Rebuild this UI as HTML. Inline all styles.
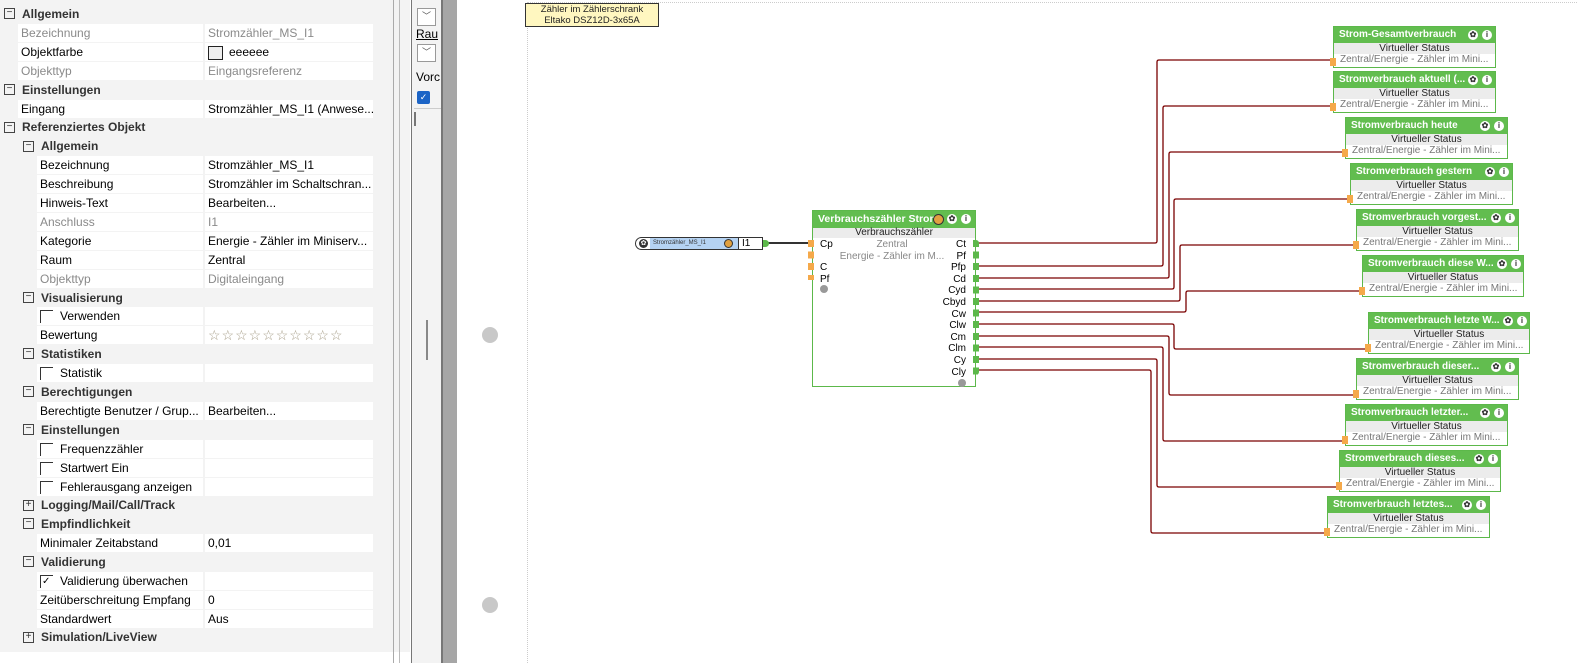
<!DOCTYPE html>
<html><head><meta charset="utf-8"><style>
*{margin:0;padding:0;box-sizing:border-box}
body{width:1577px;height:663px;position:relative;overflow:hidden;background:#fff;font-family:"Liberation Sans",sans-serif}
.panel{position:absolute;left:0;top:0;width:410px;height:652px;background:#f3f3f3}
.r{position:absolute;height:18px;line-height:18px;font-size:12px;color:#1a1a1a;white-space:nowrap}
.h{font-weight:bold;color:#333}
.c{background:#fff;position:absolute;height:18px;line-height:18px;font-size:12px;white-space:nowrap;overflow:hidden;padding-left:3px}
.g{color:#8a8a8a}
.sg{position:absolute;width:11px;height:11px;border:1px solid #444;font-size:10px;line-height:8px;text-align:center;color:#333;background:#f3f3f3}
.cb{position:absolute;width:13px;height:13px;border-left:1px solid #333;border-top:1px solid #333}
.node{position:absolute;border:1px solid #5cb84a;background:#fff;font-size:10px}
.nh{background:#62bd4f;color:#fff;font-weight:bold;height:16px;line-height:16px;padding-left:5px;font-size:10px;white-space:nowrap;overflow:hidden}
.ns{background:#ececec;color:#222;text-align:center;height:11px;line-height:11px}
.nz{color:#777;height:12px;line-height:12px;padding-left:6px;white-space:nowrap;overflow:hidden}
.ic{position:absolute;top:3px;width:10px;height:10px;border-radius:50%;background:#fff;color:#333;font-size:8px;line-height:10px;text-align:center;font-weight:bold}
.inp{position:absolute;left:-4px;bottom:1px;width:6px;height:8px;background:#f5a94a}
</style></head><body>
<div class="panel">
<div class="sg" style="left:4px;top:8px">−</div><div class="r h" style="left:22px;top:5px">Allgemein</div>
<div class="c g" style="left:18px;top:24px;width:185px">Bezeichnung</div><div class="c g" style="left:205px;top:24px;width:168px">Stromzähler_MS_I1</div>
<div class="c" style="left:18px;top:43px;width:185px">Objektfarbe</div><div class="c" style="left:205px;top:43px;width:168px"><span style="display:inline-block;width:15px;height:14px;border:1px solid #222;background:#eee;vertical-align:middle;margin-right:6px"></span>eeeeee</div>
<div class="c g" style="left:18px;top:62px;width:185px">Objekttyp</div><div class="c g" style="left:205px;top:62px;width:168px">Eingangsreferenz</div>
<div class="sg" style="left:4px;top:84px">−</div><div class="r h" style="left:22px;top:81px">Einstellungen</div>
<div class="c" style="left:18px;top:100px;width:185px">Eingang</div><div class="c" style="left:205px;top:100px;width:168px">Stromzähler_MS_I1 (Anwese...</div>
<div class="sg" style="left:4px;top:122px">−</div><div class="r h" style="left:22px;top:118px">Referenziertes Objekt</div>
<div class="sg" style="left:23px;top:141px">−</div><div class="r h" style="left:41px;top:137px">Allgemein</div>
<div class="c" style="left:37px;top:156px;width:166px">Bezeichnung</div><div class="c" style="left:205px;top:156px;width:168px">Stromzähler_MS_I1</div>
<div class="c" style="left:37px;top:175px;width:166px">Beschreibung</div><div class="c" style="left:205px;top:175px;width:168px">Stromzähler im Schaltschran...</div>
<div class="c" style="left:37px;top:194px;width:166px">Hinweis-Text</div><div class="c" style="left:205px;top:194px;width:168px">Bearbeiten...</div>
<div class="c g" style="left:37px;top:213px;width:166px">Anschluss</div><div class="c g" style="left:205px;top:213px;width:168px">I1</div>
<div class="c" style="left:37px;top:232px;width:166px">Kategorie</div><div class="c" style="left:205px;top:232px;width:168px">Energie - Zähler im Miniserv...</div>
<div class="c" style="left:37px;top:251px;width:166px">Raum</div><div class="c" style="left:205px;top:251px;width:168px">Zentral</div>
<div class="c g" style="left:37px;top:270px;width:166px">Objekttyp</div><div class="c g" style="left:205px;top:270px;width:168px">Digitaleingang</div>
<div class="sg" style="left:23px;top:292px">−</div><div class="r h" style="left:41px;top:289px">Visualisierung</div>
<div class="c" style="left:37px;top:307px;width:166px;padding-left:23px">Verwenden</div><div class="c" style="left:205px;top:307px;width:168px"></div><div class="cb" style="left:40px;top:310px"></div>
<div class="c" style="left:37px;top:326px;width:166px">Bewertung</div><div class="c" style="left:205px;top:326px;width:168px;color:#a89f8a;font-size:14px;letter-spacing:1px">☆☆☆☆☆☆☆☆☆☆</div>
<div class="sg" style="left:23px;top:348px">−</div><div class="r h" style="left:41px;top:345px">Statistiken</div>
<div class="c" style="left:37px;top:364px;width:166px;padding-left:23px">Statistik</div><div class="c" style="left:205px;top:364px;width:168px"></div><div class="cb" style="left:40px;top:367px"></div>
<div class="sg" style="left:23px;top:386px">−</div><div class="r h" style="left:41px;top:383px">Berechtigungen</div>
<div class="c" style="left:37px;top:402px;width:166px">Berechtigte Benutzer / Grup...</div><div class="c" style="left:205px;top:402px;width:168px">Bearbeiten...</div>
<div class="sg" style="left:23px;top:424px">−</div><div class="r h" style="left:41px;top:421px">Einstellungen</div>
<div class="c" style="left:37px;top:440px;width:166px;padding-left:23px">Frequenzzähler</div><div class="c" style="left:205px;top:440px;width:168px"></div><div class="cb" style="left:40px;top:443px"></div>
<div class="c" style="left:37px;top:459px;width:166px;padding-left:23px">Startwert Ein</div><div class="c" style="left:205px;top:459px;width:168px"></div><div class="cb" style="left:40px;top:462px"></div>
<div class="c" style="left:37px;top:478px;width:166px;padding-left:23px">Fehlerausgang anzeigen</div><div class="c" style="left:205px;top:478px;width:168px"></div><div class="cb" style="left:40px;top:481px"></div>
<div class="sg" style="left:23px;top:500px">+</div><div class="r h" style="left:41px;top:496px">Logging/Mail/Call/Track</div>
<div class="sg" style="left:23px;top:518px">−</div><div class="r h" style="left:41px;top:515px">Empfindlichkeit</div>
<div class="c" style="left:37px;top:534px;width:166px">Minimaler Zeitabstand</div><div class="c" style="left:205px;top:534px;width:168px">0,01</div>
<div class="sg" style="left:23px;top:556px">−</div><div class="r h" style="left:41px;top:553px">Validierung</div>
<div class="c" style="left:37px;top:572px;width:166px;padding-left:23px">Validierung überwachen</div><div class="c" style="left:205px;top:572px;width:168px"></div><div class="cb" style="left:40px;top:575px;font-size:10px;line-height:11px;padding-left:1px">✓</div>
<div class="c" style="left:37px;top:591px;width:166px">Zeitüberschreitung Empfang</div><div class="c" style="left:205px;top:591px;width:168px">0</div>
<div class="c" style="left:37px;top:610px;width:166px">Standardwert</div><div class="c" style="left:205px;top:610px;width:168px">Aus</div>
<div class="sg" style="left:23px;top:632px">+</div><div class="r h" style="left:41px;top:628px">Simulation/LiveView</div>
</div>
<div style="position:absolute;left:0;top:652px;width:400px;height:11px;background:#fff"></div>
<div style="position:absolute;left:393px;top:0;width:1px;height:663px;background:#aaa"></div>
<div style="position:absolute;left:399px;top:0;width:1px;height:663px;background:#bbb"></div>
<div style="position:absolute;left:411px;top:0;width:1px;height:663px;background:#777"></div>
<div style="position:absolute;left:412px;top:0;width:29px;height:663px;background:#f3f3f3"></div>
<div style="position:absolute;left:426px;top:320px;width:2px;height:40px;background:#888"></div>
<div style="position:absolute;left:417px;top:8px;width:19px;height:18px;border:1px solid #999;background:#fff;font-size:9px;text-align:center;color:#555">﹀</div>
<div style="position:absolute;left:416px;top:27px;font-size:12px;text-decoration:underline">Rau</div>
<div style="position:absolute;left:417px;top:44px;width:19px;height:18px;border:1px solid #999;background:#fff;font-size:9px;text-align:center;color:#555">﹀</div>
<div style="position:absolute;left:416px;top:70px;font-size:12px">Vorc</div>
<div style="position:absolute;left:417px;top:91px;width:13px;height:13px;border-radius:2px;background:#1b64c6;color:#fff;font-size:9px;text-align:center;line-height:13px">✓</div>
<div style="position:absolute;left:414px;top:108px;width:27px;height:1px;background:#ccc"></div>
<div style="position:absolute;left:414px;top:112px;width:2px;height:14px;background:#777"></div>
<div style="position:absolute;left:441px;top:0;width:2px;height:663px;background:#777"></div>
<div style="position:absolute;left:443px;top:0;width:14px;height:663px;background:#a6a6a6"></div>
<!-- canvas -->
<div style="position:absolute;left:527px;top:2px;width:1050px;height:661px;border-left:1px dotted #ccc;border-top:1px dotted #ccc"></div>
<div style="position:absolute;left:525px;top:3px;width:134px;height:24px;background:#fff7c0;border:1px solid #333;font-size:9.5px;text-align:center;line-height:11px;color:#222">Zähler im Zählerschrank<br>Eltako DSZ12D-3x65A</div>
<div style="position:absolute;left:482px;top:327px;width:16px;height:16px;border-radius:50%;background:#c8c8c8"></div>
<div style="position:absolute;left:482px;top:597px;width:16px;height:16px;border-radius:50%;background:#c8c8c8"></div>
<svg style="position:absolute;left:0;top:0" width="1577" height="663">
<g fill="none" stroke="#7a0000" stroke-width="1.3">
<path d="M978 243H1155Q1157 243 1157 241V62Q1157 60 1159 60H1333"/>
<path d="M978 266H1161Q1163 266 1163 264V108Q1163 106 1165 106H1333"/>
<path d="M978 278H1167Q1169 278 1169 276V154Q1169 152 1171 152H1345"/>
<path d="M978 289H1172Q1174 289 1174 287V201Q1174 199 1176 199H1350"/>
<path d="M978 301H1178Q1180 301 1180 299V247Q1180 245 1182 245H1356"/>
<path d="M978 312H1184Q1186 312 1186 310V293Q1186 291 1188 291H1362"/>
<path d="M978 324H1172Q1174 324 1174 326V347Q1174 349 1176 349H1368"/>
<path d="M978 336H1167Q1169 336 1169 338V393Q1169 395 1171 395H1356"/>
<path d="M978 347H1161Q1163 347 1163 349V439Q1163 441 1165 441H1345"/>
<path d="M978 359H1155Q1157 359 1157 361V485Q1157 487 1159 487H1339"/>
<path d="M978 370H1149Q1151 370 1151 372V531Q1151 533 1153 533H1327"/>
</g>
<line x1="766" y1="243" x2="812" y2="243" stroke="#333" stroke-width="2"/>
</svg>
<!-- input node -->
<div style="position:absolute;left:635px;top:237px;width:128px;height:13px;border:1px solid #333;border-radius:7px 0 0 7px;background:#fff;font-size:6px;line-height:11px">
<div style="position:absolute;left:3px;top:1px;width:9px;height:9px;border-radius:50%;background:#333;color:#fff;font-size:7px;line-height:9px;text-align:center">✿</div>
<div style="position:absolute;left:14px;top:0;width:88px;height:11px;background:#b5d3f3;padding-left:3px;color:#333">Stromzähler_MS_I1</div>
<div style="position:absolute;left:88px;top:1px;width:9px;height:9px;border-radius:50%;background:#e0a040;border:1px solid #333"></div>
<div style="position:absolute;left:102px;top:-1px;width:1px;height:13px;background:#333"></div>
<div style="position:absolute;left:106px;top:0;font-size:10px;color:#000">I1</div>
</div>
<div style="position:absolute;left:763px;top:240px;width:6px;height:7px;border-radius:0 4px 4px 0;background:#5cb84a"></div>
<!-- main block -->
<div class="node" style="left:812px;top:210px;width:164px;height:177px;font-size:10px">
<div class="nh" style="height:17px;line-height:17px;font-size:10.5px">Verbrauchszähler Strom</div>
<div style="position:absolute;left:120px;top:3px;width:11px;height:11px;border-radius:50%;background:#e0a040;border:1px solid #333"></div>
<div class="ic" style="left:134px">✿</div><div class="ic" style="left:148px">i</div>
<div class="ns" style="height:10px;line-height:10px">Verbrauchszähler</div>
<div style="position:absolute;left:0;top:28px;width:162px;line-height:11.6px">
<div style="position:absolute;left:7px;top:0">Cp<br><br>C<br>Pf</div>
<div style="position:absolute;left:7px;top:46px;width:8px;height:8px;border-radius:50%;background:#999"></div>
<div style="position:absolute;left:24px;top:0;width:110px;text-align:center;color:#888">Zentral<br>Energie - Zähler im M...</div>
<div style="position:absolute;right:9px;top:0;text-align:right">Ct<br>Pf<br>Pfp<br>Cd<br>Cyd<br>Cbyd<br>Cw<br>Clw<br>Cm<br>Clm<br>Cy<br>Cly</div>
<div style="position:absolute;left:145px;top:140px;width:8px;height:8px;border-radius:50%;background:#999"></div>
</div>
</div>
<div style="position:absolute;left:808px;top:240px;width:6px;height:40px;background:repeating-linear-gradient(#f5a94a 0 7px,transparent 7px 11.6px)"></div>
<div style="position:absolute;left:973px;top:240px;width:6px;height:135px;background:repeating-linear-gradient(#5cb84a 0 7px,transparent 7px 11.6px);border-radius:0 3px 3px 0"></div>
<!-- right nodes -->
<div class="node" style="left:1333px;top:26px;width:163px;height:42px"><div class="nh">Strom-Gesamtverbrauch</div><div class="ic" style="left:134px">✿</div><div class="ic" style="left:148px">i</div><div class="ns">Virtueller Status</div><div class="nz">Zentral/Energie - Zähler im Mini...</div><div class="inp"></div></div>
<div class="node" style="left:1333px;top:71px;width:163px;height:42px"><div class="nh">Stromverbrauch aktuell (...</div><div class="ic" style="left:134px">✿</div><div class="ic" style="left:148px">i</div><div class="ns">Virtueller Status</div><div class="nz">Zentral/Energie - Zähler im Mini...</div><div class="inp"></div></div>
<div class="node" style="left:1345px;top:117px;width:163px;height:42px"><div class="nh">Stromverbrauch heute</div><div class="ic" style="left:134px">✿</div><div class="ic" style="left:148px">i</div><div class="ns">Virtueller Status</div><div class="nz">Zentral/Energie - Zähler im Mini...</div><div class="inp"></div></div>
<div class="node" style="left:1350px;top:163px;width:163px;height:42px"><div class="nh">Stromverbrauch gestern</div><div class="ic" style="left:134px">✿</div><div class="ic" style="left:148px">i</div><div class="ns">Virtueller Status</div><div class="nz">Zentral/Energie - Zähler im Mini...</div><div class="inp"></div></div>
<div class="node" style="left:1356px;top:209px;width:163px;height:42px"><div class="nh">Stromverbrauch vorgest...</div><div class="ic" style="left:134px">✿</div><div class="ic" style="left:148px">i</div><div class="ns">Virtueller Status</div><div class="nz">Zentral/Energie - Zähler im Mini...</div><div class="inp"></div></div>
<div class="node" style="left:1362px;top:255px;width:162px;height:42px"><div class="nh">Stromverbrauch diese W...</div><div class="ic" style="left:134px">✿</div><div class="ic" style="left:148px">i</div><div class="ns">Virtueller Status</div><div class="nz">Zentral/Energie - Zähler im Mini...</div><div class="inp"></div></div>
<div class="node" style="left:1368px;top:312px;width:162px;height:42px"><div class="nh">Stromverbrauch letzte W...</div><div class="ic" style="left:134px">✿</div><div class="ic" style="left:148px">i</div><div class="ns">Virtueller Status</div><div class="nz">Zentral/Energie - Zähler im Mini...</div><div class="inp"></div></div>
<div class="node" style="left:1356px;top:358px;width:163px;height:42px"><div class="nh">Stromverbrauch dieser...</div><div class="ic" style="left:134px">✿</div><div class="ic" style="left:148px">i</div><div class="ns">Virtueller Status</div><div class="nz">Zentral/Energie - Zähler im Mini...</div><div class="inp"></div></div>
<div class="node" style="left:1345px;top:404px;width:163px;height:42px"><div class="nh">Stromverbrauch letzter...</div><div class="ic" style="left:134px">✿</div><div class="ic" style="left:148px">i</div><div class="ns">Virtueller Status</div><div class="nz">Zentral/Energie - Zähler im Mini...</div><div class="inp"></div></div>
<div class="node" style="left:1339px;top:450px;width:162px;height:42px"><div class="nh">Stromverbrauch dieses...</div><div class="ic" style="left:134px">✿</div><div class="ic" style="left:148px">i</div><div class="ns">Virtueller Status</div><div class="nz">Zentral/Energie - Zähler im Mini...</div><div class="inp"></div></div>
<div class="node" style="left:1327px;top:496px;width:163px;height:42px"><div class="nh">Stromverbrauch letztes...</div><div class="ic" style="left:134px">✿</div><div class="ic" style="left:148px">i</div><div class="ns">Virtueller Status</div><div class="nz">Zentral/Energie - Zähler im Mini...</div><div class="inp"></div></div>
</body></html>
